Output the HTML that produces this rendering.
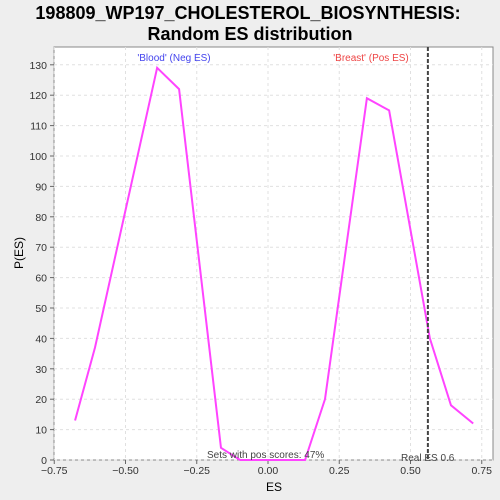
<!DOCTYPE html>
<html><head><style>
body{margin:0;background:#eeeeee;font-family:"Liberation Sans",sans-serif;}
</style></head><body>
<svg width="500" height="500" style="display:block">
<rect x="0" y="0" width="500" height="500" fill="#eeeeee"/>
<text x="248" y="19" text-anchor="middle" font-size="18" font-weight="bold">198809_WP197_CHOLESTEROL_BIOSYNTHESIS:</text>
<text x="250" y="40" text-anchor="middle" font-size="18" font-weight="bold">Random ES distribution</text>
<rect x="54" y="47" width="439" height="413" fill="#fff" stroke="#888"/>
<g id="grid"></g><g id="axes"></g><g id="series"></g>
<text x="274" y="491" text-anchor="middle" font-size="12">ES</text>
<text x="23" y="253" text-anchor="middle" font-size="12" transform="rotate(-90 23 253)">P(ES)</text>
<text x="174" y="61" text-anchor="middle" font-size="10" fill="#4444ee">'Blood' (Neg ES)</text>
<text x="371" y="61" text-anchor="middle" font-size="10" fill="#ee4444">'Breast' (Pos ES)</text>
<text x="207" y="458" font-size="10" fill="#444">Sets with pos scores: 47%</text>
<text x="401" y="461" font-size="10" fill="#444">Real ES 0.6</text>
</svg>
<script>
const esValues=[-0.677,-0.607,-0.389,-0.312,-0.165,-0.098,0.13,0.2,0.347,0.425,0.568,0.642,0.72];
const pValues=[13,37,129,122,4,0,0,20,119,115,40,18,12];
const xTicks=[-0.75,-0.5,-0.25,0,0.25,0.5,0.75];
const xTickLabels=["\u22120.75","\u22120.50","\u22120.25","0.00","0.25","0.50","0.75"];
const yTicks=[0,10,20,30,40,50,60,70,80,90,100,110,120,130];
const realES=0.561;
const NS="http://www.w3.org/2000/svg";
const X=v=>268+v*285, Y=v=>460-v*3.04;
function mk(t,a,p){const e=document.createElementNS(NS,t);for(const k in a)e.setAttribute(k,a[k]);document.getElementById(p).appendChild(e);return e;}
xTicks.forEach((t,i)=>{
 const g=mk('line',{x1:X(t),x2:X(t),y1:47,y2:460,stroke:'#e0e0e0','stroke-dasharray':'3,3'},'grid');
 
 
 const tk=mk('line',{x1:X(t),x2:X(t),y1:460,y2:464,stroke:'#666'},'axes');
 
 
 const l=mk('text',{x:X(t),y:474,'text-anchor':'middle','font-size':10.5,fill:'#333'},'axes');l.textContent=xTickLabels[i];
 
 
});
yTicks.forEach(t=>{
 const g=mk('line',{x1:54,x2:493,y1:Y(t),y2:Y(t),stroke:'#e0e0e0','stroke-dasharray':'3,3'},'grid');
 
 
 const tk=mk('line',{x1:50,x2:54,y1:Y(t),y2:Y(t),stroke:'#666'},'axes');
 
 
 const l=mk('text',{x:47,y:Y(t)+4,'text-anchor':'end','font-size':10.5,fill:'#333'},'axes');l.textContent=t;
 
 
});
const line=mk('polyline',{points:esValues.map((v,i)=>X(v)+','+Y(pValues[i])).join(' '),fill:'none',stroke:'#ff44ff','stroke-width':2},'series');


const r=mk('line',{x1:X(realES),x2:X(realES),y1:47,y2:460,stroke:'#444','stroke-width':2,'stroke-dasharray':'4,2'},'series');


</script>
</body></html>
